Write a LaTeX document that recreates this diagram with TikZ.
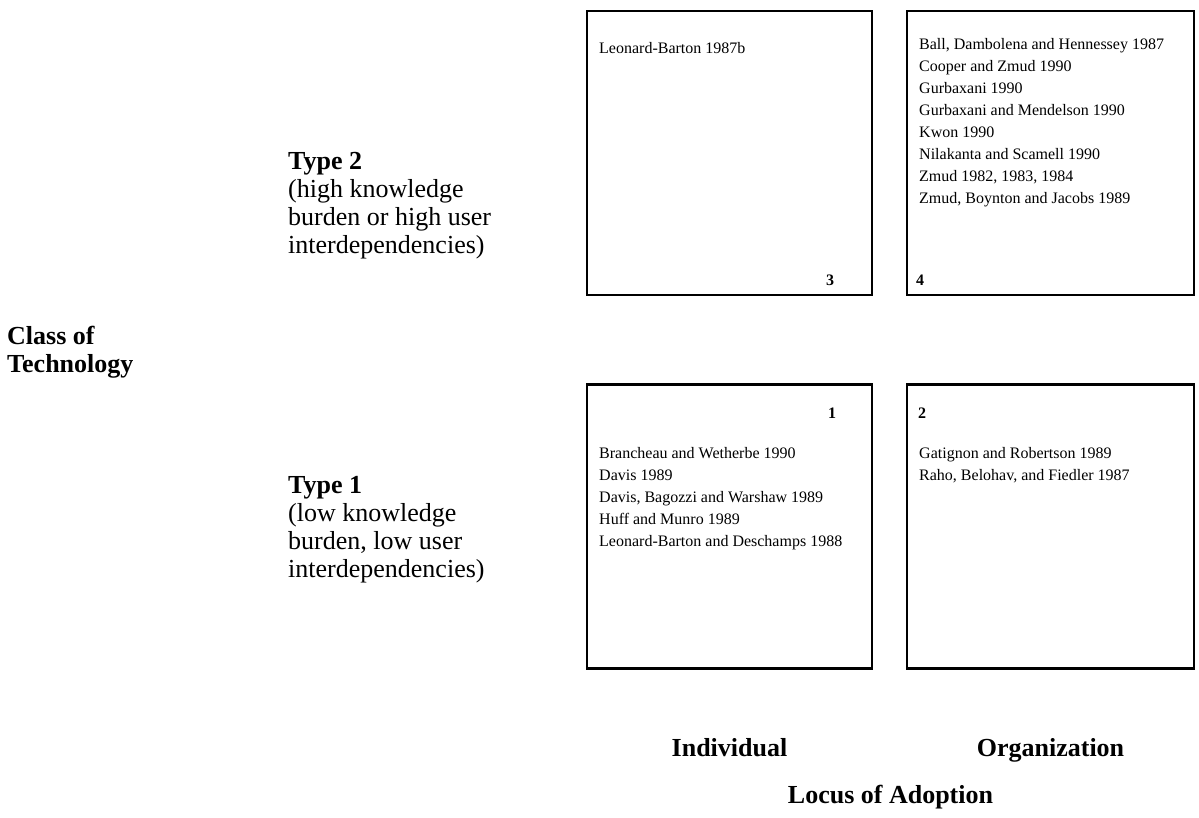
\documentclass[tikz,border=0pt]{standalone}
\usepackage{fontspec}
\setmainfont{Liberation Serif}
\begin{document}
\begin{tikzpicture}[x=1pt,y=-1pt,
  cell/.style={draw, line width=2.5pt, minimum width=285pt, minimum height=284pt, inner sep=0pt},
  ref/.style={font=\fontsize{16}{22}\selectfont, anchor=north west, align=left, inner sep=0pt},
  num/.style={font=\fontsize{16}{16}\selectfont\bfseries, inner sep=0pt},
  lab/.style={font=\fontsize{26}{28}\selectfont, align=left, anchor=north west, inner sep=0pt},
  head/.style={font=\fontsize{26}{28}\selectfont\bfseries, inner sep=0pt, anchor=base}]
\useasboundingbox (0,0) rectangle (1199,818);
% cells
\node[cell] (c3) at (729.5,153) {};
\node[cell, minimum width=287pt] (c4) at (1050.5,153) {};
\node[cell] (c1) at (729.5,526.5) {};
\node[cell, minimum width=287pt] (c2) at (1050.5,526.5) {};
% references
\node[ref] (r3) at (599,42) {Leonard-Barton 1987b};
\node[ref] (r4) at (919,38) {Ball, Dambolena and Hennessey 1987\\
Cooper and Zmud 1990\\
Gurbaxani 1990\\
Gurbaxani and Mendelson 1990\\
Kwon 1990\\
Nilakanta and Scamell 1990\\
Zmud 1982, 1983, 1984\\
Zmud, Boynton and Jacobs 1989};
\node[ref] (r1) at (599,447) {Brancheau and Wetherbe 1990\\
Davis 1989\\
Davis, Bagozzi and Warshaw 1989\\
Huff and Munro 1989\\
Leonard-Barton and Deschamps 1988};
\node[ref] (r2) at (919,447) {Gatignon and Robertson 1989\\
Raho, Belohav, and Fiedler 1987};
% cell numbers
\node[num] (n3) at (830,280) {3};
\node[num] (n4) at (920,280) {4};
\node[num] (n1) at (832,413) {1};
\node[num] (n2) at (922,413) {2};
% row labels
\node[lab] (t2) at (288,152) {\textbf{Type 2}\\(high knowledge\\burden or high user\\interdependencies)};
\node[lab] (t1) at (288,476) {\textbf{Type 1}\\(low knowledge\\burden, low user\\interdependencies)};
\node[lab] (cls) at (7,326) {\textbf{Class of}\\\textbf{Technology}};
% column labels
\node[head] (ind) at (729.5,756) {Individual};
\node[head] (org) at (1050.5,756) {Organization};
\node[head] (loc) at (890.5,803) {Locus of Adoption};
\end{tikzpicture}
\end{document}
